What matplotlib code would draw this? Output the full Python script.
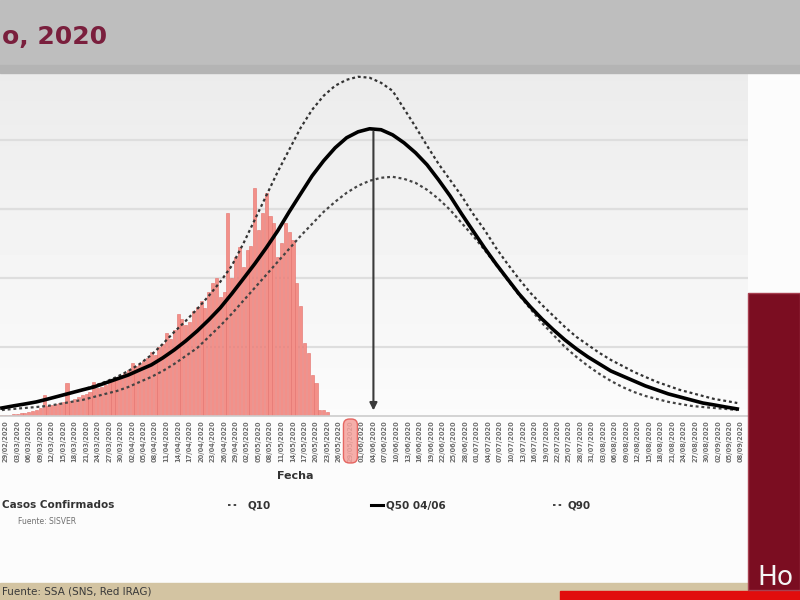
import numpy as np
import pandas as pd
import matplotlib
matplotlib.use('Agg')
import matplotlib.pyplot as plt
from matplotlib.patches import Rectangle, FancyBboxPatch
from matplotlib.lines import Line2D

# casos confirmados por dia (desde 28/02/2020)
casos = [5, 8, 10, 12, 15, 18, 25, 30, 35, 40, 55, 150, 70, 80, 90, 95, 100, 240, 110, 120,
         140, 150, 160, 175, 245, 200, 210, 225, 240, 260, 280, 300, 310, 330, 385, 360, 380, 400, 420, 465,
         440, 500, 520, 600, 560, 620, 740, 700, 660, 680, 760, 790, 830, 780, 900, 965, 1000, 860, 900, 1470,
         1000, 1150, 1225, 1080, 1200, 1230, 1650, 1350, 1470, 1615, 1450, 1400, 1150, 1250, 1400, 1330, 1275, 965, 800, 530,
         455, 300, 240, 45, 40, 30]

# curvas del modelo, un valor cada 3 dias
q50 = [58, 73, 87, 102, 123, 145, 167, 189, 210, 239, 268, 297, 334, 370, 421, 479, 544, 616, 696, 783,
       885, 993, 1102, 1218, 1341, 1479, 1610, 1740, 1849, 1943, 2016, 2059, 2081, 2074, 2037, 1979, 1907, 1820, 1711, 1595,
       1465, 1341, 1218, 1102, 993, 885, 790, 703, 624, 551, 486, 428, 377, 326, 290, 254, 218, 189, 160, 138,
       116, 94, 80, 65, 51]
q90 = [58, 73, 87, 102, 123, 145, 167, 189, 218, 247, 283, 326, 377, 442, 522, 609, 689, 776, 870, 972,
       1088, 1247, 1421, 1595, 1769, 1929, 2088, 2219, 2320, 2393, 2436, 2458, 2451, 2414, 2356, 2226, 2095, 1958, 1827, 1711,
       1595, 1465, 1349, 1218, 1102, 993, 892, 805, 725, 645, 573, 515, 457, 406, 363, 319, 283, 247, 218, 189,
       167, 145, 123, 109, 94]
q10 = [43, 51, 58, 65, 73, 87, 102, 116, 138, 160, 181, 210, 247, 283, 326, 377, 435, 493, 573, 653,
       740, 834, 928, 1022, 1117, 1211, 1305, 1392, 1479, 1552, 1617, 1668, 1704, 1726, 1733, 1718, 1689, 1639, 1573, 1494,
       1399, 1305, 1204, 1095, 986, 877, 776, 674, 587, 500, 428, 363, 305, 254, 210, 174, 145, 123, 102, 87,
       73, 65, 58, 51, 43]

fechas = pd.date_range('2020-02-28', periods=195)
dia_hoy = 91
dia_pico = 97

dias_b = np.arange(len(casos))
dias_q = np.arange(0, 3 * len(q50), 3)
ticks = np.arange(1, 195, 3)
tick_labels = [fechas[i].strftime('%d/%m/%Y') for i in ticks]

fig = plt.figure(figsize=(8, 6), dpi=100)
fig.patch.set_facecolor('#fcfcfc')
ax = fig.add_axes([0.0, 0.3067, 0.935, 0.57])

# fondo degradado (mas gris arriba)
grad = np.linspace(0.985, 0.925, 100).reshape(-1, 1)
ax.imshow(grad, extent=[0, 1, 0, 1], transform=ax.transAxes, aspect='auto',
          cmap='gray', vmin=0, vmax=1, origin='lower', zorder=0)

ax.bar(dias_b, casos, width=0.8, color='#f39089', edgecolor='#e36f6a', linewidth=0.4, zorder=2)
ax.plot(dias_q, q90, color='#333333', lw=1.6, ls=(0, (1.3, 1.3)), zorder=3)
ax.plot(dias_q, q10, color='#444444', lw=1.6, ls=(0, (1.3, 1.3)), zorder=3)
ax.plot(dias_q, q50, color='black', lw=2.6, zorder=4)

ax.annotate('', xy=(dia_pico, 20), xytext=(dia_pico, max(q50)),
            arrowprops=dict(arrowstyle='-|>', color='#3a3a3a', lw=1.5, mutation_scale=11), zorder=5)

ax.set_xlim(-0.5, 194.8)
ax.set_ylim(0, 2478)
ax.set_yticks([500, 1000, 1500, 2000])
ax.set_yticklabels([])
ax.tick_params(axis='y', length=0)
ax.grid(axis='y', color='#dedede', lw=1.6, zorder=1)
ax.set_axisbelow(True)
ax.set_xticks(ticks)
ax.set_xticklabels(tick_labels, rotation=90, fontsize=4.8, color='#6e6e6e', fontweight='bold')
ax.tick_params(axis='x', length=0, pad=3)
for s in ['top', 'right', 'left']:
    ax.spines[s].set_visible(False)
ax.spines['bottom'].set_color('#cccccc')
ax.spines['bottom'].set_linewidth(1.2)

# fecha actual resaltada (caja en pixeles)
xh = ax.transData.transform((dia_hoy, 0))[0]
hl = FancyBboxPatch((xh - 7, 137), 14, 44, boxstyle='round,pad=0,rounding_size=6',
                    transform=None, facecolor='#f5a19c', edgecolor='#e2544f', lw=1.0,
                    alpha=0.85, zorder=1)
fig.add_artist(hl)

fig.text(295 / 800, 1 - 476 / 600, 'Fecha', fontsize=8, fontweight='bold', color='#333333', ha='center', va='center')

# leyenda
ly = 1 - 505 / 600
fig.text(0.002, ly, 'Casos Confirmados', fontsize=7.5, fontweight='bold', color='#333333', va='center')
fig.add_artist(Line2D([228 / 800, 238 / 800], [ly, ly], color='#444444', lw=1.4, ls=(0, (1.3, 1.6))))
fig.text(247 / 800, ly, 'Q10', fontsize=7.5, fontweight='bold', color='#333333', va='center')
fig.add_artist(Line2D([371 / 800, 383 / 800], [ly, ly], color='black', lw=2.2))
fig.text(386 / 800, ly, 'Q50 04/06', fontsize=7.5, fontweight='bold', color='#333333', va='center')
fig.add_artist(Line2D([553 / 800, 563 / 800], [ly, ly], color='#444444', lw=1.4, ls=(0, (1.3, 1.6))))
fig.text(567 / 800, ly, 'Q90', fontsize=7.5, fontweight='bold', color='#333333', va='center')
fig.text(18 / 800, 1 - 522 / 600, 'Fuente: SISVER', fontsize=5.5, color='#707070', va='center')

# elementos de la diapositiva
fig.add_artist(Rectangle((0, 0.89), 1, 0.11, transform=fig.transFigure, color='#bebebe', zorder=10))
fig.add_artist(Rectangle((0, 0.879), 1, 0.012, transform=fig.transFigure, color='#b4b4b4', zorder=10))
fig.text(0.003, 1 - 37 / 600, 'o, 2020', fontsize=18, fontweight='bold', color='#7a1f3d',
         ha='left', va='center', zorder=11)

fig.add_artist(Rectangle((0, 0), 1, 17 / 600, transform=fig.transFigure, color='#d3c4a2', zorder=10))
fig.text(0.003, 8 / 600, 'Fuente: SSA (SNS, Red IRAG)', fontsize=7.5, color='#3a3a3a', va='center', zorder=11)
fig.add_artist(Rectangle((560 / 800, 0), 240 / 800, 9 / 600, transform=fig.transFigure, color='#e10d0d', zorder=11))
fig.add_artist(Rectangle((748 / 800, 10 / 600), 52 / 800, 297 / 600, transform=fig.transFigure,
                         facecolor='#7b0d21', edgecolor='#a84050', lw=1.0, zorder=12))
fig.text(757 / 800, 1 - 578 / 600, 'Ho', fontsize=19, color='#f4f4f4', va='center', zorder=13)

fig.savefig('out.png', dpi=100, facecolor=fig.get_facecolor())
